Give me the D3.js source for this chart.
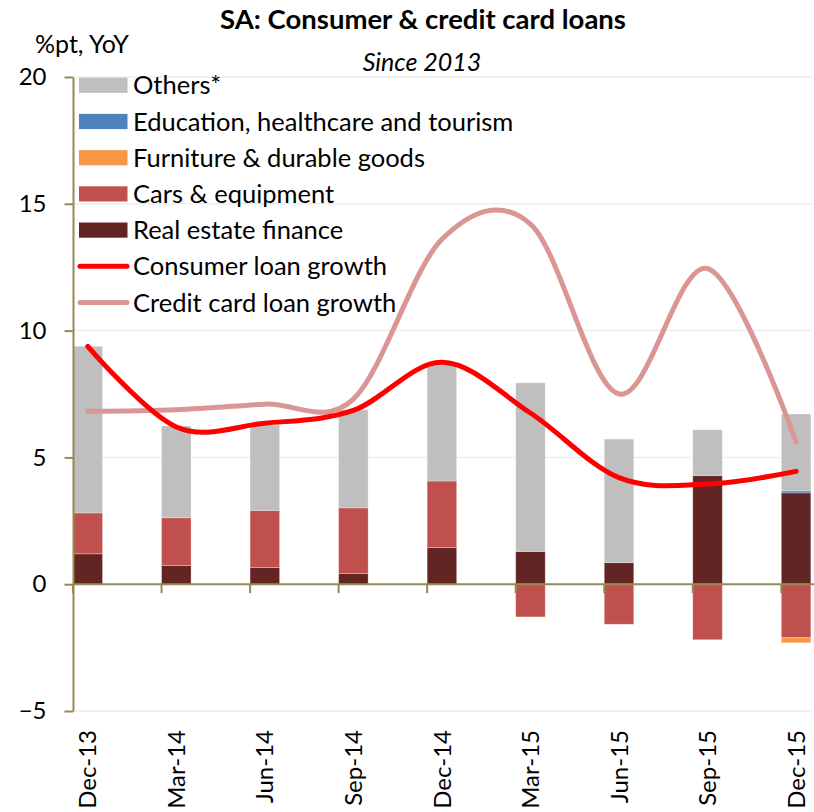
<!DOCTYPE html>
<html>
<head>
<meta charset="utf-8">
<script src="https://cdn.jsdelivr.net/npm/d3@7"></script>
<style>
  html, body { margin: 0; padding: 0; background: #fff; }
  svg { display: block; font-family: Lato, "Open Sans", sans-serif; }
</style>
</head>
<body>
<svg id="chart" width="814" height="812"></svg>
<script>
// Quarterly contributions to consumer loan growth (percentage points, YoY)
const categories = ["Dec-13", "Mar-14", "Jun-14", "Sep-14", "Dec-14", "Mar-15", "Jun-15", "Sep-15", "Dec-15"];
const realEstate = [1.20, 0.74, 0.66, 0.42, 1.45, 1.29, 0.85, 4.28, 3.60];
const carsEquipment = [1.61, 1.88, 2.25, 2.59, 2.62, -1.29, -1.58, -2.19, -2.11];
const furniture = [0, 0, 0, 0, 0, 0, 0, 0, -0.20];
const educationHealth = [0, 0, 0, 0, 0, 0, 0, 0, 0.08];
const others = [6.57, 3.62, 3.37, 3.87, 4.60, 6.65, 4.87, 1.81, 3.03];
// Growth rates (%, YoY)
const consumerGrowth = [9.38, 6.20, 6.35, 6.85, 8.75, 6.75, 4.20, 3.95, 4.45];
const creditCardGrowth = [6.82, 6.88, 7.10, 7.30, 13.60, 14.20, 7.50, 12.45, 5.60];
const yTicks = [-5, 0, 5, 10, 15, 20];

const seriesDefs = [
  { key: "re", name: "Real estate finance", values: realEstate, color: "#632523" },
  { key: "cars", name: "Cars & equipment", values: carsEquipment, color: "#c0504d" },
  { key: "furn", name: "Furniture & durable goods", values: furniture, color: "#f79646" },
  { key: "edu", name: "Education, healthcare and tourism", values: educationHealth, color: "#4f81bd" },
  { key: "oth", name: "Others*", values: others, color: "#bfbfbf" }
];
const lineDefs = [
  { name: "Consumer loan growth", values: consumerGrowth, color: "#ff0000" },
  { name: "Credit card loan growth", values: creditCardGrowth, color: "#d99694" }
];

const svg = d3.select("#chart");
const axisColor = "#948a54";
const plotLeft = 73, plotTop = 77, plotBottom = 711;
const step = 88.54;

const x = d3.scaleBand().domain(categories).range([plotLeft, plotLeft + step * categories.length]).paddingInner(0).paddingOuter(0);
const barW = x.bandwidth() / 3;
const xc = c => x(c) + barW / 2;
const y = d3.scaleLinear().domain([-5, 20]).range([plotBottom, plotTop]);

// gridlines
svg.append("g").selectAll("line")
  .data(yTicks.filter(t => t !== 0))
  .join("line")
  .attr("x1", plotLeft).attr("x2", 812)
  .attr("y1", d => y(d)).attr("y2", d => y(d))
  .attr("stroke", "#ededed").attr("stroke-width", 1.5);

// stacked bars (positive and negative parts stacked separately)
const rows = categories.map((c, i) => {
  const r = { cat: c };
  seriesDefs.forEach(s => r[s.key] = s.values[i]);
  return r;
});
const stack = d3.stack().keys(seriesDefs.map(s => s.key)).offset(d3.stackOffsetDiverging);
const stacked = stack(rows);

svg.append("g").selectAll("g")
  .data(stacked)
  .join("g")
  .attr("fill", (d, i) => seriesDefs[i].color)
  .selectAll("rect")
  .data(d => d.filter(p => p[1] - p[0] !== 0))
  .join("rect")
  .attr("x", p => x(p.data.cat))
  .attr("width", barW)
  .attr("y", p => y(Math.max(p[0], p[1])))
  .attr("height", p => Math.abs(y(p[0]) - y(p[1])))
  .attr("stroke", "#ffffff").attr("stroke-opacity", 0.35).attr("stroke-width", 0.8);

// axes
const yAxis = d3.axisLeft(y).tickValues(yTicks).tickSize(8.5).tickSizeOuter(0).tickPadding(18).tickFormat(d3.format("d"));
const gy = svg.append("g").attr("transform", `translate(${plotLeft},0)`).call(yAxis);
gy.select(".domain").attr("stroke", axisColor).attr("stroke-width", 2);
gy.selectAll(".tick line").attr("stroke", axisColor).attr("stroke-width", 2);
gy.selectAll(".tick text").attr("font-size", 24).attr("fill", "#000").attr("font-family", "Lato, sans-serif");

const y0 = y(0);
svg.append("line").attr("x1", plotLeft).attr("x2", 814).attr("y1", y0).attr("y2", y0)
  .attr("stroke", axisColor).attr("stroke-width", 2);
svg.append("g").selectAll("line")
  .data(categories)
  .join("line")
  .attr("x1", d => x(d)).attr("x2", d => x(d))
  .attr("y1", y0).attr("y2", y0 + 9)
  .attr("stroke", axisColor).attr("stroke-width", 2);
svg.append("g").selectAll("text")
  .data(categories)
  .join("text")
  .attr("transform", d => `translate(${xc(d)},730) rotate(-90)`)
  .attr("text-anchor", "end")
  .attr("dy", "0.36em")
  .attr("font-size", 24)
  .attr("fill", "#000")
  .text(d => d);

// smoothed growth lines
const lineGen = vals => d3.line()
  .x((v, i) => xc(categories[i]))
  .y(v => y(v))
  .curve(d3.curveCardinal.tension(0))(vals);

[lineDefs[1], lineDefs[0]].forEach(l => {
  svg.append("path")
    .attr("d", lineGen(l.values))
    .attr("fill", "none")
    .attr("stroke", l.color)
    .attr("stroke-width", 5)
    .attr("stroke-linecap", "round")
    .attr("stroke-linejoin", "round");
});

// titles
svg.append("text").attr("x", 423).attr("y", 29).attr("text-anchor", "middle")
  .attr("font-size", 27.5).attr("font-weight", "bold").attr("fill", "#000")
  .text("SA: Consumer & credit card loans");
svg.append("text").attr("x", 35).attr("y", 53)
  .attr("font-size", 25).attr("fill", "#000").text("%pt, YoY");
svg.append("text").attr("x", 422).attr("y", 71).attr("text-anchor", "middle")
  .attr("font-size", 25).attr("font-style", "italic").attr("fill", "#000").text("Since 2013");

// legend
const legendItems = [
  ...seriesDefs.slice().reverse().map(s => ({ name: s.name, color: s.color, type: "bar" })),
  ...lineDefs.map(l => ({ name: l.name, color: l.color, type: "line" }))
];
const lg = svg.append("g").selectAll("g")
  .data(legendItems)
  .join("g")
  .attr("transform", (d, i) => `translate(0,${85.3 + i * 36.2})`);
lg.filter(d => d.type === "bar").append("rect")
  .attr("x", 79).attr("y", -7.6).attr("width", 48.5).attr("height", 15.2)
  .attr("fill", d => d.color);
lg.filter(d => d.type === "line").append("line")
  .attr("x1", 80).attr("x2", 127).attr("y1", 0).attr("y2", 0)
  .attr("stroke", d => d.color).attr("stroke-width", 5).attr("stroke-linecap", "round");
lg.append("text").attr("x", 133).attr("dy", "0.36em")
  .attr("font-size", 25.5).attr("fill", "#000").text(d => d.name);
</script>
</body>
</html>
